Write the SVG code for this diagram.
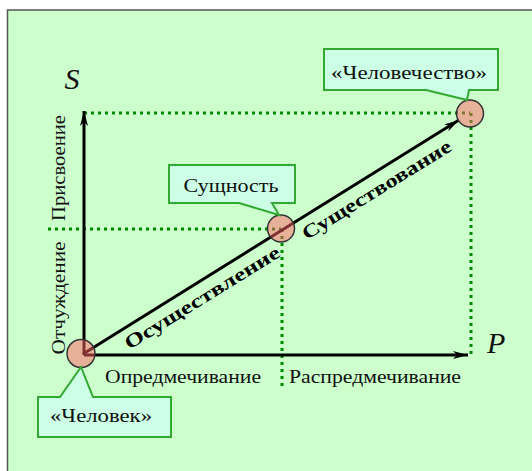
<svg xmlns="http://www.w3.org/2000/svg" width="532" height="471" viewBox="0 0 532 471">
<style>
.lbl{font-family:"Liberation Serif","DejaVu Serif","Times New Roman",serif;font-size:19px;fill:#111}
.box{fill:#ccffe6;stroke:#33a833;stroke-width:2}
.dot{stroke:#008800;stroke-width:3;stroke-dasharray:3 4;fill:none}
.axis{stroke:#000;stroke-width:3;fill:none}
.node{fill:#ff6464;fill-opacity:0.5;stroke:#333;stroke-width:1.5}
.bold{font-family:"Liberation Serif","DejaVu Serif","Times New Roman",serif;font-size:19px;font-weight:bold;fill:#000}
.var{font-family:"Liberation Serif","Times New Roman",serif;font-size:30px;font-style:italic;fill:#111}
</style>
<defs>
<marker id="arr" markerUnits="userSpaceOnUse" markerWidth="16" markerHeight="10" viewBox="0 0 16 10" refX="15" refY="5" orient="auto">
<path d="M0,1 L15,5 L0,9 L4,5 Z" fill="#000"/>
</marker>
</defs>
<rect x="7.5" y="10" width="540" height="480" fill="#ccffcc" stroke="#555" stroke-width="1.5"/>
<g id="guides">
<line class="dot" x1="84" y1="113" x2="470" y2="113"/>
<line class="dot" x1="471" y1="113" x2="471" y2="355"/>
<line class="dot" x1="48" y1="229" x2="281" y2="229"/>
<line class="dot" x1="282" y1="229" x2="282" y2="387"/>
</g>
<g id="connectors">
<line class="axis" x1="84" y1="355" x2="84" y2="111" marker-end="url(#arr)"/>
<line class="axis" x1="84" y1="355" x2="468" y2="355" marker-end="url(#arr)"/>
<line class="axis" x1="83" y1="354" x2="459" y2="120" marker-end="url(#arr)"/>
</g>
<g id="node-human">
<circle class="node" cx="81" cy="353.5" r="14"/>
<path class="box" d="M38,397 H60 L81,367 L93,397 H171 V437 H38 Z"/>
<text class="lbl" x="101" y="422" text-anchor="middle" textLength="102" lengthAdjust="spacingAndGlyphs">«Человек»</text>
</g>
<g id="node-essence">
<circle class="node" cx="281" cy="228.5" r="13.5"/>
<path class="box" d="M169,165 H295 V203 H272 L279,215 L239,203 H169 Z"/>
<text class="lbl" x="231" y="192" text-anchor="middle" textLength="95" lengthAdjust="spacingAndGlyphs">Сущность</text>
</g>
<g id="node-humanity">
<circle class="node" cx="470" cy="113.5" r="13.5"/>
<path class="box" d="M324,49 H498 V90 H469 L467,100 L426,90 H324 Z"/>
<text class="lbl" x="409" y="79" text-anchor="middle" textLength="156" lengthAdjust="spacingAndGlyphs">«Человечество»</text>
</g>
<g id="labels">
<text class="var" x="72" y="89" text-anchor="middle">S</text>
<text class="var" x="487" y="353">P</text>
<text class="lbl" x="183" y="383" text-anchor="middle" textLength="156" lengthAdjust="spacingAndGlyphs">Опредмечивание</text>
<text class="lbl" x="375" y="383" text-anchor="middle" textLength="172" lengthAdjust="spacingAndGlyphs">Распредмечивание</text>
<text class="lbl" transform="translate(65,168) rotate(-90)" text-anchor="middle" textLength="106" lengthAdjust="spacingAndGlyphs">Присвоение</text>
<text class="lbl" transform="translate(65,298) rotate(-90)" text-anchor="middle" textLength="113" lengthAdjust="spacingAndGlyphs">Отчуждение</text>
<g transform="translate(83,354) rotate(-31.74)">
<text class="bold" x="131" y="21" text-anchor="middle" textLength="179" lengthAdjust="spacingAndGlyphs">Осуществление</text>
<text class="bold" x="336" y="21" text-anchor="middle" textLength="172" lengthAdjust="spacingAndGlyphs">Существование</text>
</g>
</g>
</svg>
